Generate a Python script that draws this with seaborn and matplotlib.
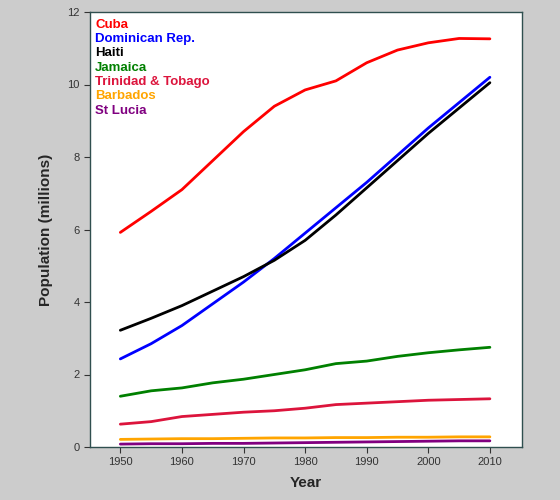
import matplotlib
matplotlib.use("Agg")
import matplotlib.pyplot as plt
import seaborn as sns
import pandas as pd

years = [1950,1955,1960,1965,1970,1975,1980,1985,1990,1995,2000,2005,2010]
cuba = [5.92,6.5,7.1,7.9,8.7,9.4,9.85,10.1,10.6,10.95,11.15,11.27,11.26]
dominican = [2.43,2.85,3.35,3.95,4.55,5.2,5.9,6.6,7.3,8.05,8.8,9.5,10.2]
haiti = [3.22,3.55,3.9,4.3,4.7,5.15,5.7,6.4,7.15,7.9,8.65,9.35,10.05]
jamaica = [1.4,1.55,1.63,1.77,1.87,2.0,2.13,2.3,2.37,2.5,2.6,2.68,2.75]
trinidad = [0.63,0.7,0.84,0.9,0.96,1.0,1.07,1.17,1.21,1.25,1.29,1.31,1.33]
barbados = [0.21,0.22,0.23,0.23,0.24,0.25,0.25,0.26,0.26,0.27,0.27,0.28,0.28]
stlucia = [0.08,0.09,0.09,0.1,0.1,0.11,0.12,0.13,0.14,0.15,0.16,0.17,0.17]

names = ["Cuba","Dominican Rep.","Haiti","Jamaica","Trinidad & Tobago","Barbados","St Lucia"]
colors = ["#ff0000","#0000ff","#000000","#008000","#dc143c","#ffa500","#800080"]
series = [cuba,dominican,haiti,jamaica,trinidad,barbados,stlucia]

rows = []
for n, s in zip(names, series):
    for y, v in zip(years, s):
        rows.append({"Year": y, "Pop": v, "Country": n})
df = pd.DataFrame(rows)

sns.set_style("white")
plt.rcParams['font.family'] = ['Liberation Sans', 'DejaVu Sans']
fig = plt.figure(figsize=(5.6,5.0), dpi=100, facecolor="#cccccc")
ax = fig.add_axes([0.161,0.106,0.771,0.870])
sns.lineplot(data=df, x="Year", y="Pop", hue="Country", hue_order=names,
             palette=dict(zip(names,colors)), linewidth=2, ax=ax, legend=False)
ax.set_xlim(1945.1,2015.2)
ax.set_ylim(0,12)
ax.set_xticks(range(1950,2011,10))
ax.set_yticks(range(0,13,2))
ax.tick_params(axis="both", direction="out", length=4, labelsize=8, colors="#333333", left=True, bottom=True)
for sp in ax.spines.values():
    sp.set_color("#2f4f4f"); sp.set_linewidth(1)
ax.set_xlabel("Year", fontsize=11, fontweight="bold", labelpad=6)
ax.set_ylabel("Population (millions)", fontsize=11, fontweight="bold", labelpad=10)
for i,(n,c) in enumerate(zip(names,colors)):
    ax.text(0.012, 0.985 - i*0.033, n, color=c, transform=ax.transAxes,
            fontsize=9.5, fontweight="bold", va="top", ha="left")
fig.savefig("out.png", dpi=100, facecolor=fig.get_facecolor())
